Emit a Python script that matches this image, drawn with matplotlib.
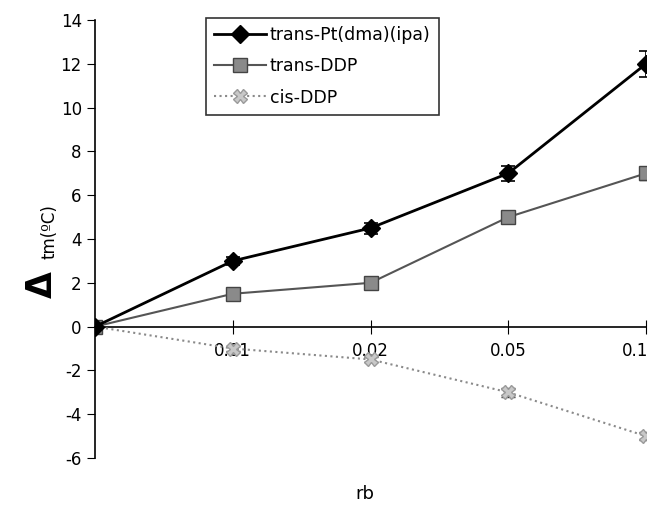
import numpy as np
import matplotlib.pyplot as plt
import matplotlib.transforms as mtransforms
from matplotlib.lines import Line2D

plt.rcParams['font.family'] = ['DejaVu Sans']
plt.rcParams['axes.unicode_minus'] = False

rb_labels = ['', '0.01', '0.02', '0.05', '0.1']
pt_dma_ipa = [0, 3, 4.5, 7, 12]
pt_dma_ipa_err = [0, 0.2, 0.25, 0.35, 0.6]
trans_ddp = [0, 1.5, 2, 5, 7]
trans_ddp_err = [0, 0.1, 0.1, 0.1, 0.3]
cis_ddp = [0, -1, -1.5, -3, -5]
cis_ddp_err = [0, 0.1, 0.1, 0.2, 0.2]

xs = np.arange(len(rb_labels))

fig = plt.figure(figsize=(6.49, 5.08), dpi=100)
ax = fig.add_axes([0.1464, 0.0984, 0.849, 0.8622])

styles = [
    dict(color='black', lw=2, marker='D', ms=9, mfc='black', mec='black'),
    dict(color='#555555', lw=1.5, ls='-', marker='s', ms=10, mfc='#8a8a8a', mec='#444444'),
    dict(color='#8a8a8a', lw=1.5, ls=':', marker='X', ms=10, mfc='#c8c8c8', mec='#9a9a9a'),
]

ax.errorbar(xs, pt_dma_ipa, yerr=pt_dma_ipa_err, capsize=5, capthick=1.2,
            elinewidth=1.2, ecolor='black', zorder=5, **styles[0])
ax.errorbar(xs, trans_ddp, yerr=trans_ddp_err, capsize=5, ecolor='#333333',
            zorder=4, **styles[1])
ax.errorbar(xs, cis_ddp, yerr=cis_ddp_err, capsize=5, ecolor='#333333',
            zorder=3, **styles[2])

ax.set_xlim(0, 4)
ax.set_ylim(-6, 14)
ax.set_yticks(range(-6, 15, 2))
ax.set_xticks(xs)
ax.set_xticklabels(rb_labels)

ax.spines['top'].set_visible(False)
ax.spines['right'].set_visible(False)
ax.spines['bottom'].set_position(('data', 0))
ax.spines['left'].set_linewidth(1.2)
ax.spines['bottom'].set_linewidth(1.2)
ax.tick_params(axis='y', direction='out', length=6, labelsize=12)
ax.tick_params(axis='x', direction='inout', length=10, labelsize=12, pad=6)

# keep the last label inside the figure edge
last = ax.xaxis.get_major_ticks()[-1].label1
last.set_transform(last.get_transform() +
                   mtransforms.ScaledTranslation(-8 / 72, 0, fig.dpi_scale_trans))

ax.set_xlabel('rb', fontsize=13)
ax.xaxis.set_label_coords(0.49, -0.062)

fig.text(0.064, 0.44, r'$\mathbf{\Delta}$', fontsize=25, rotation=90,
         ha='center', va='center')
fig.text(0.077, 0.545, 'tm(ºC)', fontsize=12, rotation=90,
         ha='center', va='center')

names = ['trans-Pt(dma)(ipa)', 'trans-DDP', 'cis-DDP']
handles = [Line2D([], [], **s) for s in styles]
leg = ax.legend(handles, names, loc='upper left', bbox_to_anchor=(0.317, 0.965),
                bbox_transform=fig.transFigure, fontsize=12.5, frameon=True,
                fancybox=False, edgecolor='black', handlelength=3.0,
                handletextpad=0.2, borderpad=0.5, labelspacing=0.75,
                borderaxespad=0)
leg.get_frame().set_linewidth(1.2)

fig.savefig('out.png', dpi=100)
